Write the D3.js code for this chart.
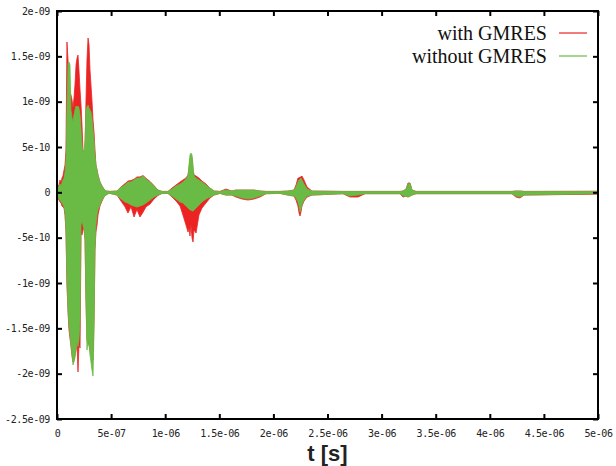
<!DOCTYPE html>
<html>
<head>
<meta charset="utf-8">
<script src="https://cdn.jsdelivr.net/npm/d3@7"></script>
<style>
body { margin: 0; background: #fff; }
.tick text { font-family: "DejaVu Sans Mono", monospace; font-size: 10px; letter-spacing: -0.4px; fill: #222; }
</style>
</head>
<body>
<div id="chart"></div>
<script>
// time in ns, amplitudes in units of 1e-10 (envelope of the dense signal)
var timeNs = [
  0,9,18,28,37,46,55,65,74,83,92,102,111,120,129,139,148,157,166,176,
  185,194,203,213,222,231,240,250,259,268,277,287,296,305,314,323,333,342,351,360,
  370,379,397,416,434,453,471,490,
  555,582,628,656,684,712,739,767,795,823,860,896,933,970,1026,
  1063,1100,1137,1164,1192,1211,1220,1229,1238,1248,1257,1266,1285,1312,1340,1377,1414,1451,1506,1562,1617,
  1654,1710,1765,1821,1876,1932,2061,2135,2190,
  2209,2227,2237,2246,2255,2264,2283,2311,2357,
  2643,2708,2782,2847,3170,3198,3226,3244,3262,3281,3318,4205,4242,4279,4316,5000
];

// "without GMRES" (green)
var withoutHi = [
  0.14,0.47,0.69,0.92,0.69,1.03,1.36,1.58,2.24,3.56,9.08,14.26,14.37,14.04,9.08,8.20,7.75,8.53,9.08,9.52,
  9.41,9.52,9.30,8.50,7.00,5.22,4.45,4.67,5.77,9.08,9.41,9.63,9.30,9.08,8.86,8.20,6.87,5.77,4.11,3.01,
  2.46,1.91,1.14,0.69,0.36,0.14,0.12,0.10,
  0.14,0.47,0.81,1.14,1.14,1.36,1.58,1.58,1.80,1.47,1.14,0.69,0.25,0.10,0.10,
  0.36,0.69,0.92,1.14,1.47,1.80,3.01,4.11,4.33,4.11,3.01,1.80,1.58,1.36,1.14,0.81,0.47,0.14,0.10,0.25,0.14,
  0.25,0.25,0.25,0.25,0.14,0.10,0.10,0.14,0.25,
  0.58,1.14,1.36,1.47,1.58,1.36,0.92,0.36,0.14,
  0.10,0.10,0.10,0.10,0.10,0.14,0.36,0.92,1.03,0.25,0.10,0.10,0.14,0.14,0.10,0.10
];
var withoutLo = [
  -0.19,-0.52,-0.74,-0.85,-1.07,-1.18,-1.40,-1.62,-2.17,-4.16,-9.67,-12.98,-14.64,-15.74,-16.84,-17.94,-19.04,-18.71,-18.27,-17.39,
  -16.50,-17.00,-16.30,-14.00,-3.50,-3.28,-3.61,-4.16,-5.26,-11.88,-17.39,-16.29,-16.84,-17.94,-18.71,-19.59,-20.25,-15.18,-6.36,-3.61,
  -2.50,-1.95,-1.40,-0.85,-0.52,-0.30,-0.15,-0.12,
  -0.30,-0.63,-1.07,-1.18,-1.40,-1.51,-1.62,-1.51,-1.40,-1.18,-0.85,-0.52,-0.30,-0.12,-0.12,
  -0.41,-0.74,-1.07,-1.18,-1.51,-1.73,-1.84,-1.95,-1.95,-2.06,-2.06,-1.95,-1.73,-1.40,-1.07,-0.74,-0.52,-0.30,-0.12,-0.30,-0.30,
  -0.41,-0.63,-0.74,-0.63,-0.41,-0.15,-0.12,-0.30,-0.41,
  -0.63,-1.07,-1.51,-2.17,-1.84,-1.40,-0.85,-0.41,-0.30,
  -0.15,-0.41,-0.30,-0.15,-0.15,-0.41,-0.41,-0.52,-0.41,-0.30,-0.15,-0.15,-0.41,-0.52,-0.30,-0.15
];

// "with GMRES" (red)
var withHi = [
  0.14,0.69,0.81,1.36,1.03,1.58,1.80,2.46,3.01,4.67,16.58,14.59,12.39,11.06,10.73,10.18,9.30,10.40,11.84,14.04,
  14.81,15.14,13.49,11.28,9.63,7.42,4.67,4.45,4.67,10.18,14.59,17.02,16.25,13.49,11.84,10.18,7.97,6.65,4.67,3.01,
  2.46,1.91,1.14,0.69,0.36,0.14,0.12,0.10,
  0.14,0.50,0.95,1.25,1.30,1.45,1.70,1.70,1.85,1.55,1.20,0.75,0.25,0.10,0.10,
  0.47,0.81,1.14,1.36,1.58,1.91,2.68,3.56,4.11,3.78,2.46,1.91,1.80,1.58,1.25,0.92,0.47,0.14,0.10,0.36,0.14,
  0.25,0.25,0.25,0.25,0.14,0.10,0.10,0.14,0.25,
  0.81,1.58,1.58,1.69,1.69,1.80,1.36,0.58,0.14,
  0.10,0.10,0.10,0.10,0.10,0.14,0.36,1.03,1.03,0.25,0.10,0.10,0.14,0.14,0.10,0.12
];
var withLo = [
  -0.19,-0.63,-0.85,-1.07,-1.18,-1.51,-1.62,-1.73,-2.50,-4.38,-10.22,-13.20,-15.18,-16.07,-16.95,-18.05,-18.71,-18.49,-17.94,-17.39,
  -16.60,-19.81,-16.84,-17.17,-4.49,-4.71,-4.16,-3.94,-5.26,-11.88,-16.29,-16.62,-16.84,-17.39,-17.94,-17.94,-18.49,-14.09,-6.36,-4.38,
  -3.61,-2.50,-1.51,-0.96,-0.52,-0.30,-0.15,-0.12,
  -0.30,-0.80,-1.60,-2.28,-1.60,-2.72,-1.90,-2.72,-2.20,-1.60,-1.30,-0.75,-0.35,-0.12,-0.12,
  -0.52,-0.96,-1.51,-2.50,-3.61,-4.38,-3.94,-4.82,-3.61,-5.04,-5.48,-4.16,-4.49,-2.50,-1.73,-1.18,-0.63,-0.30,-0.12,-0.30,-0.30,
  -0.52,-0.74,-0.85,-0.74,-0.52,-0.15,-0.12,-0.30,-0.41,
  -0.85,-1.51,-2.28,-2.61,-2.17,-1.51,-0.96,-0.52,-0.30,
  -0.15,-0.52,-0.52,-0.15,-0.15,-0.52,-0.41,-0.52,-0.41,-0.30,-0.15,-0.15,-0.52,-0.63,-0.30,-0.20
];

var xTicks = [0, 5e-7, 1e-6, 1.5e-6, 2e-6, 2.5e-6, 3e-6, 3.5e-6, 4e-6, 4.5e-6, 5e-6];
var xTickLabels = ["0", "5e-07", "1e-06", "1.5e-06", "2e-06", "2.5e-06", "3e-06", "3.5e-06", "4e-06", "4.5e-06", "5e-06"];
var yTicks = [-2.5e-9, -2e-9, -1.5e-9, -1e-9, -5e-10, 0, 5e-10, 1e-9, 1.5e-9, 2e-9];
var yTickLabels = ["-2.5e-09", "-2e-09", "-1.5e-09", "-1e-09", "-5e-10", "0", "5e-10", "1e-09", "1.5e-09", "2e-09"];

var seriesNames = ["with GMRES", "without GMRES"];
var seriesColors = ["#ec2323", "#6abb45"];

var width = 616, height = 466;
var margin = {top: 11, right: 18, bottom: 47, left: 57};
var plotW = width - margin.left - margin.right;
var plotH = height - margin.top - margin.bottom;

var svg = d3.select("#chart").append("svg")
    .attr("width", width)
    .attr("height", height);

var x = d3.scaleLinear().domain([0, 5e-6]).range([0, plotW]);
var y = d3.scaleLinear().domain([-2.5e-9, 2e-9]).range([plotH, 0]);

var g = svg.append("g").attr("transform", "translate(" + margin.left + "," + margin.top + ")");

g.append("clipPath").attr("id", "clip")
  .append("rect").attr("width", plotW).attr("height", plotH);

// build rows for both series
function rows(hi, lo){
    return timeNs.map(function(t, i){
        return {t: t * 1e-9, hi: hi[i] * 1e-10, lo: lo[i] * 1e-10};
    });
}
var seriesData = [rows(withHi, withLo), rows(withoutHi, withoutLo)];

var area = d3.area()
    .x(function(d){ return x(d.t); })
    .y0(function(d){ return y(d.lo); })
    .y1(function(d){ return y(d.hi); });

var plot = g.append("g").attr("clip-path", "url(#clip)");
seriesData.forEach(function(data, i){
    plot.append("path")
        .datum(data)
        .attr("d", area)
        .attr("fill", seriesColors[i])
        .attr("stroke", seriesColors[i])
        .attr("stroke-width", 0.8)
        .attr("stroke-linejoin", "round");
});

// axes, gnuplot style: inward ticks mirrored on all four sides
var tickLen = 5;
function fmt(ticks, labels){
    return function(d){ return labels[ticks.indexOf(d)]; };
}

var xBottom = g.append("g").attr("transform", "translate(0," + plotH + ")")
    .call(d3.axisBottom(x).tickValues(xTicks).tickFormat(fmt(xTicks, xTickLabels))
        .tickSize(-tickLen).tickPadding(11));
var xTop = g.append("g")
    .call(d3.axisTop(x).tickValues(xTicks).tickFormat("").tickSize(-tickLen));
var yLeft = g.append("g")
    .call(d3.axisLeft(y).tickValues(yTicks).tickFormat(fmt(yTicks, yTickLabels))
        .tickSize(-tickLen).tickPadding(7));
var yRight = g.append("g").attr("transform", "translate(" + plotW + ",0)")
    .call(d3.axisRight(y).tickValues(yTicks).tickFormat("").tickSize(-tickLen));

[xBottom, xTop, yLeft, yRight].forEach(function(a){
    a.select(".domain").remove();
    a.selectAll(".tick line").attr("stroke", "#000").attr("stroke-width", 2);
});

g.append("rect")
    .attr("width", plotW).attr("height", plotH)
    .attr("fill", "none").attr("stroke", "#000").attr("stroke-width", 2);

// x axis title
svg.append("text")
    .attr("x", margin.left + plotW / 2)
    .attr("y", 461)
    .attr("text-anchor", "middle")
    .style("font-family", "'Liberation Sans', Arial, sans-serif")
    .style("font-weight", "bold")
    .style("font-size", "22px")
    .attr("fill", "#222")
    .text("t [s]");

// legend
var legend = svg.append("g").attr("class", "legend");
seriesNames.forEach(function(name, i){
    var ly = 33 + i * 23;
    legend.append("text")
        .attr("x", 547).attr("y", ly + 7)
        .attr("text-anchor", "end")
        .style("font-family", "'Liberation Serif', 'Times New Roman', serif")
        .style("font-size", "20px")
        .attr("fill", "#111")
        .text(name);
    legend.append("line")
        .attr("x1", 559).attr("x2", 587)
        .attr("y1", ly).attr("y2", ly)
        .attr("stroke", seriesColors[i]).attr("stroke-width", 1.2);
});
</script>
</body>
</html>
